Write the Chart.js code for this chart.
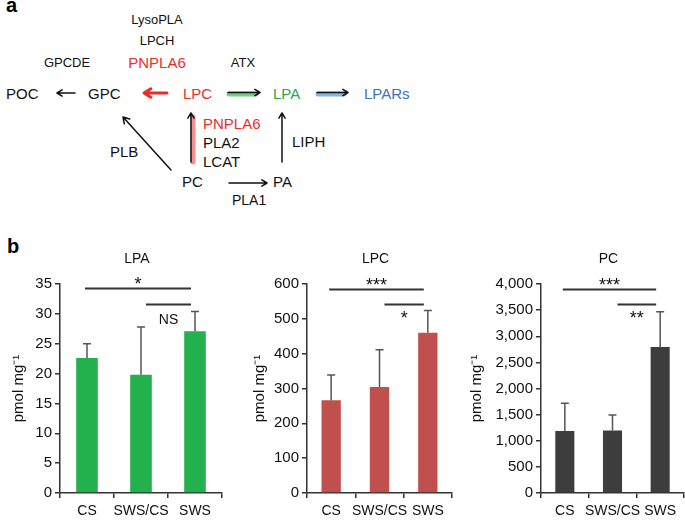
<!DOCTYPE html>
<html>
<head>
<meta charset="utf-8">
<script src="https://cdn.jsdelivr.net/npm/chart.js@4.4.0/dist/chart.umd.min.js"></script>
<style>
 body { margin: 0; width: 685px; height: 520px; overflow: hidden; background: #fff; position: relative;
        font-family: "Liberation Sans", Arial, sans-serif; }
 canvas { position: absolute; }
 #diagram { position: absolute; left: 0; top: 0; }
 .panel { position: absolute; font-weight: bold; font-size: 20px; color: #000; }
</style>
</head>
<body>
<svg id="diagram" width="685" height="235"></svg>
<div class="panel" style="left:7px; top:235px;">b</div>
<canvas id="lpaChart" width="230" height="280" style="left:0; top:240px;"></canvas>
<canvas id="lpcChart" width="230" height="280" style="left:230px; top:240px;"></canvas>
<canvas id="pcChart" width="225" height="280" style="left:460px; top:240px;"></canvas>
<script>
// --- data ---
const groups = ['CS', 'SWS/CS', 'SWS'];

const lpaMean = [22.6, 19.8, 27.1];
const lpaSd = [2.4, 8.0, 3.3];
const lpaAxis = [0, 35, 5];          // min, max, step
const lpaSig = [[0, 2, 34.3, '*'], [1, 2, 31.7, 'NS']];

const lpcMean = [266, 304, 460];
const lpcSd = [73, 107, 64];
const lpcAxis = [0, 600, 100];
const lpcSig = [[0, 2, 586, '***'], [1, 2, 542, '*']];

const pcMean = [1185, 1194, 2794];
const pcSd = [535, 300, 676];
const pcAxis = [0, 4000, 500];
const pcSig = [[0, 2, 3905, '***'], [1, 2, 3612, '**']];

const FONT = '"Liberation Sans", Arial, sans-serif';
Chart.defaults.font.family = FONT;
Chart.defaults.color = '#111';

// --- panel a: pathway diagram ---
function arrow(x1, y1, x2, y2, color, w, head) {
  const a = Math.atan2(y2 - y1, x2 - x1);
  const h1x = x2 - head * Math.cos(a - 0.55), h1y = y2 - head * Math.sin(a - 0.55);
  const h2x = x2 - head * Math.cos(a + 0.55), h2y = y2 - head * Math.sin(a + 0.55);
  return `<path d="M${x1},${y1} L${x2},${y2} M${h1x},${h1y} L${x2},${y2} L${h2x},${h2y}" stroke="${color}" stroke-width="${w}" fill="none" stroke-linecap="round" stroke-linejoin="round"/>`;
}
function glow(x1, y1, x2, y2, color) {
  return `<line x1="${x1}" y1="${y1}" x2="${x2}" y2="${y2}" stroke="${color}" stroke-width="5" stroke-opacity="0.75" stroke-linecap="round"/>`;
}
function txt(s, x, y, size, color, anchor) {
  return `<text x="${x}" y="${y}" font-size="${size}" fill="${color || '#111'}" text-anchor="${anchor || 'start'}">${s}</text>`;
}

const red = '#ee2b2b', green = '#27a844', blue = '#3a72c4';
let svg = '';
svg += `<text x="6" y="12" font-size="20" font-weight="bold" fill="#000">a</text>`;
svg += txt('LysoPLA', 157, 24, 13, '#111', 'middle');
svg += txt('LPCH', 157, 45, 13, '#111', 'middle');
svg += txt('GPCDE', 67, 67, 13, '#111', 'middle');
svg += txt('PNPLA6', 157, 68, 15, red, 'middle');
svg += txt('ATX', 243, 67, 13, '#111', 'middle');

svg += txt('POC', 6, 99, 15);
svg += txt('GPC', 88, 99, 15);
svg += txt('LPC', 183, 99, 15, red);
svg += txt('LPA', 273, 99, 15, green);
svg += txt('LPARs', 364, 99, 15, blue);

svg += txt('PNPLA6', 203, 129, 15, red);
svg += txt('PLA2', 203, 148, 15);
svg += txt('LCAT', 203, 167, 15);
svg += txt('LIPH', 292, 147, 15);
svg += txt('PLB', 110, 157, 15);
svg += txt('PC', 182, 187, 15);
svg += txt('PA', 273, 187, 15);
svg += txt('PLA1', 232, 205, 14);

svg += arrow(75, 93, 57, 93, '#111', 1.5, 6);
svg += arrow(167, 93, 144, 93, red, 3, 8);
svg += glow(229, 94, 256, 94, '#3cc15a');
svg += arrow(228, 92.5, 260, 92.5, '#111', 1.5, 6);
svg += glow(318, 94, 344, 94, '#5a9be0');
svg += arrow(317, 92.5, 348, 92.5, '#111', 1.5, 6);
svg += glow(193, 162, 193, 117, '#f26a6a');
svg += arrow(191, 162, 191, 113, '#111', 1.5, 6);
svg += arrow(282, 162, 282, 113, '#111', 1.5, 6);
svg += arrow(171, 170, 123, 117, '#111', 1.5, 7);
svg += arrow(229, 183, 267, 183, '#111', 1.5, 6);
document.getElementById('diagram').innerHTML = svg;

// --- panel b: bar charts ---
const annotate = {
  id: 'annotate',
  afterDatasetsDraw(chart, args, opts) {
    const ctx = chart.ctx, xs = chart.scales.x, ys = chart.scales.y;
    const area = chart.chartArea;
    const meta = chart.getDatasetMeta(0);
    ctx.save();
    // error bars (upper only)
    ctx.strokeStyle = '#555';
    ctx.lineWidth = 1.5;
    opts.sd.forEach((s, i) => {
      const bar = meta.data[i];
      const top = ys.getPixelForValue(opts.mean[i] + s);
      ctx.beginPath();
      ctx.moveTo(bar.x, bar.y);
      ctx.lineTo(bar.x, top);
      ctx.moveTo(bar.x - 4, top);
      ctx.lineTo(bar.x + 4, top);
      ctx.stroke();
    });
    // significance brackets
    ctx.strokeStyle = '#333';
    ctx.lineWidth = 2;
    ctx.fillStyle = '#111';
    ctx.textAlign = 'center';
    ctx.textBaseline = 'alphabetic';
    opts.sig.forEach((s, k) => {
      const x0 = xs.getPixelForValue(s[0]) + (k === 0 ? -2 : 5);
      const x1 = xs.getPixelForValue(s[1]) - 4;
      const yy = Math.round(ys.getPixelForValue(s[2])) + 0.5;
      ctx.beginPath();
      ctx.moveTo(x0, yy);
      ctx.lineTo(x1, yy);
      ctx.stroke();
      const isStar = s[3].indexOf('*') >= 0;
      ctx.font = (isStar ? '18px ' : '14px ') + FONT;
      const ty = k === 0 ? yy + 1 : yy + 19;
      ctx.fillText(s[3], (x0 + x1) / 2, ty);
    });
    // chart title
    ctx.font = '14px ' + FONT;
    ctx.fillText(opts.title, (area.left + area.right) / 2 - 4, 23);
    ctx.restore();
  }
};

function barChart(id, title, mean, sd, axis, sig, color, yWidth, rightPad, titlePad) {
  return new Chart(document.getElementById(id), {
    type: 'bar',
    data: {
      labels: groups,
      datasets: [{ data: mean, backgroundColor: color, barPercentage: 0.4, categoryPercentage: 1 }]
    },
    options: {
      responsive: false,
      animation: false,
      devicePixelRatio: 1,
      layout: { padding: { top: 44, right: rightPad, bottom: 0, left: 0 } },
      plugins: {
        legend: { display: false },
        tooltip: { enabled: false },
        annotate: { title: title, mean: mean, sd: sd, sig: sig }
      },
      scales: {
        x: {
          grid: { drawOnChartArea: false, tickLength: 5, color: '#333', lineWidth: 1.5 },
          border: { color: '#333', width: 1.5 },
          ticks: { font: { size: 14 }, padding: 5, maxRotation: 0, autoSkip: false, color: '#111' },
          afterFit: s => { s.height = 27; }
        },
        y: {
          min: axis[0], max: axis[1],
          grid: { drawOnChartArea: false, tickLength: 5, color: '#333', lineWidth: 1.5 },
          border: { color: '#333', width: 1.5 },
          ticks: { stepSize: axis[2], font: { size: 15 }, padding: 3, color: '#111' },
          title: { display: true, text: 'pmol mg⁻¹', font: { size: 15 }, color: '#111', padding: { top: titlePad, bottom: 0 } },
          afterFit: s => { s.width = yWidth; }
        }
      }
    },
    plugins: [annotate]
  });
}

barChart('lpaChart', 'LPA', lpaMean, lpaSd, lpaAxis, lpaSig, '#22b14c', 60, 8, 10);
barChart('lpcChart', 'LPC', lpcMean, lpcSd, lpcAxis, lpcSig, '#c0504d', 77, 8, 21);
barChart('pcChart', 'PC', pcMean, pcSd, pcAxis, pcSig, '#3d3d3d', 81, 1, 8);
</script>
</body>
</html>
